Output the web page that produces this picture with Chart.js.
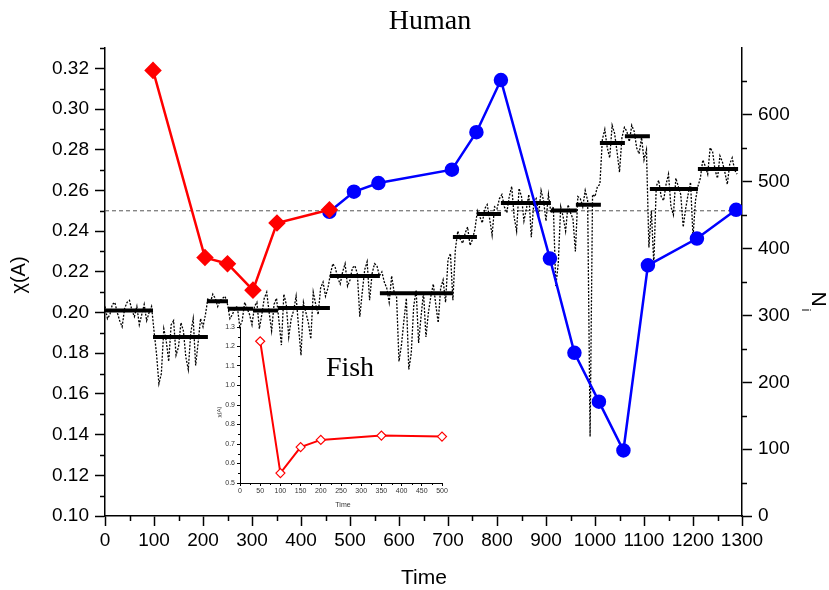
<!DOCTYPE html>
<html>
<head>
<meta charset="utf-8">
<script src="https://cdn.jsdelivr.net/npm/chart.js@4"></script>
<style>
  body{ margin:0; background:#fff; }
  #wrap{ position:relative; width:829px; height:590px; }
  #inset{ position:absolute; left:200px; top:315px; }
</style>
</head>
<body>
<div id="wrap">
  <canvas id="mainChart" width="829" height="590"></canvas>
  <canvas id="inset" width="260" height="200"></canvas>
</div>
<script>
/* ===========================
   DATA
=========================== */
// red diamonds, chi(A), left axis
const humanTime = [98, 204, 250, 302, 351, 458];
const humanChi  = [0.319, 0.227, 0.224, 0.211, 0.244, 0.2505];

// blue circles, N_i, right axis
const nTime  = [458, 508, 558, 708, 758, 808, 908, 958, 1008, 1058, 1108, 1208, 1288];
const nValue = [455, 485, 498, 518, 574, 652, 385, 244, 171, 98, 375, 415, 458];

// black noisy trace, one value every 5 time units from 0
const traceStep = 5;
const traceChi = [
  0.203,0.197,0.199,0.204,0.205,0.200,0.196,0.193,0.202,0.205,
  0.206,0.201,0.198,0.203,0.194,0.199,0.204,0.196,0.200,0.203,
  0.191,0.180,0.165,0.170,0.192,0.186,0.176,0.194,0.196,0.179,
  0.183,0.195,0.191,0.178,0.172,0.190,0.197,0.174,0.185,0.197,
  0.193,0.199,0.207,0.205,0.209,0.207,0.203,0.206,0.207,0.208,
  0.204,0.197,0.199,0.202,0.203,0.193,0.196,0.205,0.202,0.199,
  0.194,0.203,0.205,0.192,0.199,0.207,0.210,0.200,0.191,0.204,
  0.207,0.196,0.184,0.209,0.204,0.188,0.197,0.201,0.208,0.193,
  0.179,0.205,0.200,0.195,0.187,0.210,0.204,0.199,0.212,0.215,
  0.208,0.212,0.219,0.224,0.222,0.217,0.214,0.220,0.224,0.213,
  0.216,0.222,0.223,0.219,0.198,0.210,0.221,0.225,0.206,0.219,
  0.224,0.223,0.218,0.220,0.215,0.212,0.205,0.218,0.210,0.208,
  0.176,0.184,0.196,0.207,0.172,0.180,0.203,0.211,0.185,0.198,
  0.210,0.188,0.200,0.208,0.214,0.204,0.195,0.212,0.216,0.205,
  0.226,0.229,0.206,0.231,0.240,0.236,0.234,0.239,0.242,0.233,
  0.236,0.241,0.250,0.247,0.244,0.251,0.253,0.246,0.238,0.252,
  0.251,0.256,0.258,0.252,0.249,0.257,0.262,0.247,0.240,0.261,
  0.257,0.245,0.251,0.258,0.237,0.254,0.256,0.248,0.260,0.255,
  0.245,0.258,0.249,0.252,0.213,0.224,0.252,0.247,0.240,0.253,
  0.249,0.246,0.230,0.257,0.256,0.252,0.260,0.255,0.139,0.258,
  0.257,0.262,0.263,0.285,0.290,0.281,0.276,0.292,0.288,0.279,
  0.269,0.286,0.291,0.289,0.284,0.292,0.289,0.281,0.278,0.286,
  0.275,0.280,0.232,0.250,0.224,0.262,0.265,0.257,0.255,0.263,
  0.268,0.252,0.248,0.266,0.262,0.258,0.242,0.251,0.258,0.264,
  0.237,0.255,0.262,0.266,0.275,0.272,0.268,0.281,0.279,0.270,
  0.266,0.277,0.274,0.269,0.263,0.273,0.276,0.270,0.268
];

// thick black level segments
const segStart = [0, 98, 208, 251, 302, 353, 459, 561, 710, 759, 808, 910, 961, 1010, 1061, 1112, 1210];
const segEnd   = [98, 210, 251, 302, 353, 459, 561, 710, 759, 808, 910, 963, 1012, 1061, 1112, 1210, 1292];
const segLevel = [0.201, 0.188, 0.2055, 0.2018, 0.201, 0.2022, 0.218, 0.2095, 0.2371, 0.2484, 0.2538, 0.2502, 0.253, 0.2833, 0.2866, 0.2607, 0.2705];

const refLevel = 0.25;

// tick labels
const xTicks     = [0,100,200,300,400,500,600,700,800,900,1000,1100,1200,1300];
const leftTicks  = [0.10,0.12,0.14,0.16,0.18,0.20,0.22,0.24,0.26,0.28,0.30,0.32];
const rightTicks = [0,100,200,300,400,500,600];

// inset (Fish)
const fishTime = [50, 100, 150, 200, 350, 500];
const fishChi  = [1.227, 0.551, 0.684, 0.721, 0.743, 0.738];
const insetXTicks = [0,50,100,150,200,250,300,350,400,450,500];
const insetYTicks = [0.5,0.6,0.7,0.8,0.9,1.0,1.1,1.2,1.3];

/* ===========================
   HELPERS
=========================== */
const SANS = "'Liberation Sans', Arial, sans-serif";
const SERIF = "'Liberation Serif', 'Times New Roman', serif";

function range(a, b, step){
    const out = [];
    for(let v = a; v <= b + 1e-9; v += step) out.push(+v.toFixed(4));
    return out;
}

const minorTicks = {
    id:"minorTicks",
    afterDraw(chart, args, opts){
        const ctx = chart.ctx;
        ctx.save();
        ctx.strokeStyle = "#000";
        ctx.lineWidth = opts.width || 1;
        (opts.list || []).forEach(m => {
            const s = chart.scales[m.axis];
            m.values.forEach(v => {
                const p = Math.round(s.getPixelForValue(v)) + 0.5;
                ctx.beginPath();
                if(s.axis === "x"){
                    ctx.moveTo(p, s.top); ctx.lineTo(p, s.top + m.len);
                }else if(s.position === "left"){
                    ctx.moveTo(s.right, p); ctx.lineTo(s.right - m.len, p);
                }else{
                    ctx.moveTo(s.left, p); ctx.lineTo(s.left + m.len, p);
                }
                ctx.stroke();
            });
        });
        ctx.restore();
    }
};

const labels = {
    id:"labels",
    afterDraw(chart, args, opts){
        const ctx = chart.ctx;
        (opts.items || []).forEach(t => {
            ctx.save();
            ctx.fillStyle = t.color || "#000";
            ctx.font = t.font;
            ctx.textAlign = "center";
            ctx.textBaseline = "middle";
            ctx.translate(t.x, t.y);
            if(t.rot) ctx.rotate(t.rot);
            ctx.fillText(t.text, 0, 0);
            ctx.restore();
        });
    }
};

/* ===========================
   MAIN CHART
=========================== */
const traceData = traceChi.map((v, i) => ({x: i * traceStep, y: v}));

const segData = [];
segStart.forEach((s, i) => {
    segData.push({x: s, y: segLevel[i]});
    segData.push({x: segEnd[i], y: segLevel[i]});
    segData.push({x: segEnd[i], y: null});
});

new Chart(document.getElementById("mainChart"), {
    type:"line",
    data:{
        datasets:[
            {
                label:"Human",
                data:humanTime.map((t, i) => ({x: t, y: humanChi[i]})),
                yAxisID:"y",
                borderColor:"#FF0000",
                backgroundColor:"#FF0000",
                borderWidth:2.5,
                pointStyle:"rectRot",
                pointRadius:7,
                tension:0
            },
            {
                label:"N",
                data:nTime.map((t, i) => ({x: t, y: nValue[i]})),
                yAxisID:"y2",
                borderColor:"#0000FF",
                backgroundColor:"#0000FF",
                borderWidth:2.5,
                pointStyle:"circle",
                pointRadius:6,
                tension:0
            },
            {
                label:"levels",
                data:segData,
                yAxisID:"y",
                borderColor:"#000",
                borderWidth:4,
                pointRadius:0,
                spanGaps:false,
                tension:0
            },
            {
                label:"trace",
                data:traceData,
                yAxisID:"y",
                borderColor:"#000",
                borderWidth:1.3,
                borderDash:[2,1.5],
                pointRadius:0,
                tension:0
            },
            {
                label:"ref",
                data:[{x:0, y:refLevel}, {x:1300, y:refLevel}],
                yAxisID:"y",
                borderColor:"#555",
                borderWidth:1,
                borderDash:[4,3],
                pointRadius:0
            }
        ]
    },
    options:{
        responsive:false,
        animation:false,
        layout:{ padding:{ top:48, left:0, right:0, bottom:0 } },
        plugins:{
            legend:{ display:false },
            tooltip:{ enabled:false },
            minorTicks:{
                width:1.5,
                list:[
                    { axis:"x",  len:5, values:range(50, 1250, 100) },
                    { axis:"y",  len:5, values:range(0.11, 0.33, 0.02) },
                    { axis:"y2", len:5, values:range(50, 650, 100) }
                ]
            },
            labels:{
                items:[
                    { text:"Human", x:430, y:22, font:"28px " + SERIF },
                    { text:"Fish", x:350, y:369, font:"28px " + SERIF },
                    { text:"Time", x:424, y:578, font:"21px " + SANS },
                    { text:"\u03C7(A)", x:19, y:275, rot:-Math.PI / 2, font:"20px " + SANS },
                    { text:"N", x:818, y:299, rot:Math.PI / 2, font:"21px " + SANS },
                    { text:"i", x:806, y:310, rot:Math.PI / 2, font:"13px " + SANS }
                ]
            }
        },
        scales:{
            x:{
                type:"linear",
                min:0,
                max:1300,
                afterBuildTicks:s => { s.ticks = xTicks.map(v => ({value:v})); },
                ticks:{ color:"#000", font:{ family:SANS, size:19 }, padding:3, maxRotation:0, autoSkip:false, callback:v => String(v) },
                grid:{ drawOnChartArea:false, tickLength:10, tickColor:"#000", tickWidth:1.5 },
                border:{ color:"#000", width:1.5 },
                afterFit:s => { s.height = 74; }
            },
            y:{
                position:"left",
                min:0.10,
                max:0.33,
                afterBuildTicks:s => { s.ticks = leftTicks.map(v => ({value:v})); },
                ticks:{ color:"#000", font:{ family:SANS, size:19 }, padding:6, callback:v => v.toFixed(2) },
                grid:{ drawOnChartArea:false, tickLength:10, tickColor:"#000", tickWidth:1.5 },
                border:{ color:"#000", width:1.5 },
                afterFit:s => { s.width = 105; }
            },
            y2:{
                position:"right",
                min:0,
                max:700,
                afterBuildTicks:s => { s.ticks = rightTicks.map(v => ({value:v})); },
                ticks:{ color:"#000", font:{ family:SANS, size:19 }, padding:6, callback:v => String(v) },
                grid:{ drawOnChartArea:false, tickLength:10, tickColor:"#000", tickWidth:1.5 },
                border:{ color:"#000", width:1.5 },
                afterFit:s => { s.width = 87; }
            }
        }
    },
    plugins:[minorTicks, labels]
});

/* ===========================
   INSET CHART
=========================== */
new Chart(document.getElementById("inset"), {
    type:"line",
    data:{
        datasets:[
            {
                label:"Fish",
                data:fishTime.map((t, i) => ({x: t, y: fishChi[i]})),
                borderColor:"#FF0000",
                backgroundColor:"#FFFFFF",
                borderWidth:2,
                pointStyle:"rectRot",
                pointRadius:4.5,
                pointBorderWidth:1.2,
                clip:false,
                tension:0
            }
        ]
    },
    options:{
        responsive:false,
        animation:false,
        layout:{ padding:{ top:12, left:0, right:18, bottom:0 } },
        plugins:{
            legend:{ display:false },
            tooltip:{ enabled:false },
            minorTicks:{
                width:1,
                list:[
                    { axis:"x", len:2, values:range(25, 475, 50) },
                    { axis:"y", len:2, values:range(0.55, 1.25, 0.1) }
                ]
            },
            labels:{
                items:[
                    { text:"Time", x:143, y:190, font:"7px " + SANS, color:"#333" },
                    { text:"\u03C7(A)", x:19, y:97, rot:-Math.PI / 2, font:"6px " + SANS, color:"#333" }
                ]
            }
        },
        scales:{
            x:{
                type:"linear",
                min:0,
                max:500,
                afterBuildTicks:s => { s.ticks = insetXTicks.map(v => ({value:v})); },
                ticks:{ color:"#333", font:{ family:SANS, size:7 }, padding:1, maxRotation:0, autoSkip:false },
                grid:{ drawOnChartArea:false, tickLength:3, tickColor:"#000", tickWidth:1 },
                border:{ color:"#000", width:1 },
                afterFit:s => { s.height = 32; }
            },
            y:{
                min:0.5,
                max:1.3,
                afterBuildTicks:s => { s.ticks = insetYTicks.map(v => ({value:v})); },
                ticks:{ color:"#333", font:{ family:SANS, size:7 }, padding:2, callback:v => v.toFixed(1) },
                grid:{ drawOnChartArea:false, tickLength:3, tickColor:"#000", tickWidth:1 },
                border:{ color:"#000", width:1 },
                afterFit:s => { s.width = 40; }
            }
        }
    },
    plugins:[minorTicks, labels]
});
</script>
</body>
</html>
